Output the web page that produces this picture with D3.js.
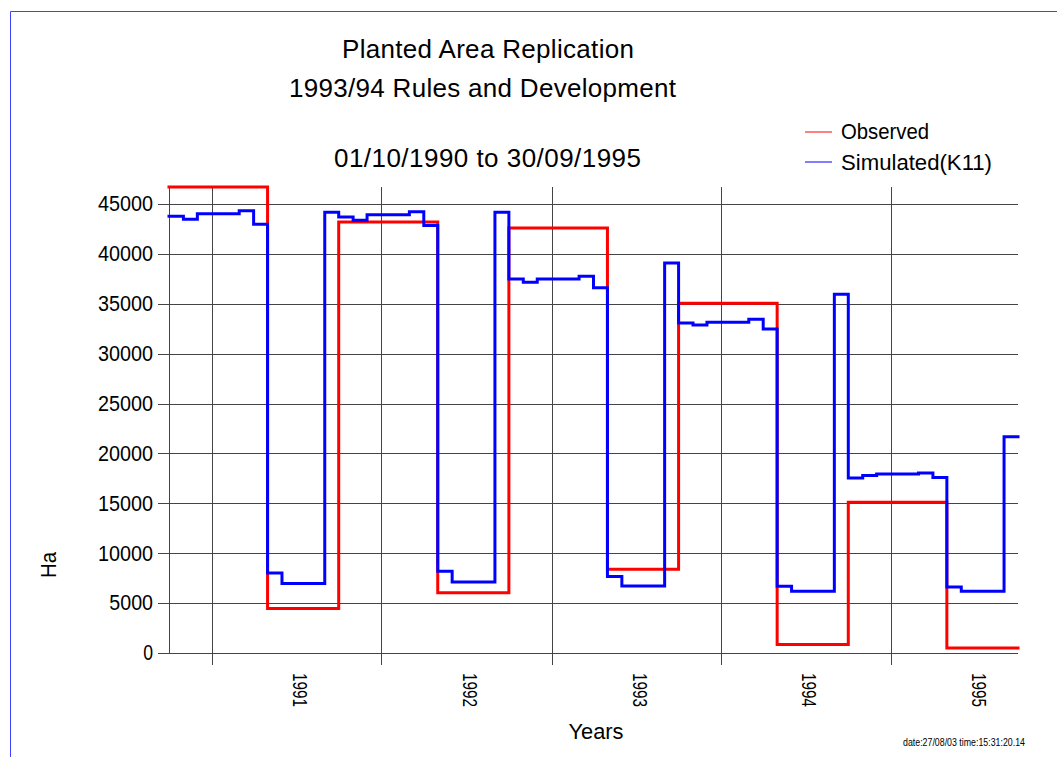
<!DOCTYPE html>
<html>
<head>
<meta charset="utf-8">
<script src="https://cdn.jsdelivr.net/npm/d3@7"></script>
<style>
  html, body { margin: 0; padding: 0; background: #fff; }
  svg { display: block; }
  text { font-family: "Liberation Sans", Arial, Helvetica, sans-serif; fill: #000; }
</style>
</head>
<body>
<svg id="chart" width="1057" height="757"></svg>
<script>
// Monthly planted area (Ha), October 1990 to September 1995, one value per month
const seasonStart = new Date(1990, 9, 1);
const seasonEnd = new Date(1995, 9, 1);

const observed = [
  46700, 46700, 46700, 46700, 46700, 46700, 46700, 4450, 4450, 4450, 4450, 4450,
  43200, 43200, 43200, 43200, 43200, 43200, 43200, 6050, 6050, 6050, 6050, 6050,
  42600, 42600, 42600, 42600, 42600, 42600, 42600, 8400, 8400, 8400, 8400, 8400,
  35050, 35050, 35050, 35050, 35050, 35050, 35050, 850, 850, 850, 850, 850,
  15100, 15100, 15100, 15100, 15100, 15100, 15100, 500, 500, 500, 500, 500
];

const simulated = [
  43780, 43470, 44030, 44030, 44030, 44330, 42970, 8020, 6960, 6960, 6960, 44170,
  43700, 43370, 43930, 43930, 43930, 44230, 42830, 8190, 7120, 7120, 7120, 44170,
  37480, 37150, 37480, 37480, 37480, 37750, 36610, 7660, 6720, 6720, 6720, 39090,
  33070, 32870, 33140, 33140, 33140, 33440, 32470, 6690, 6190, 6190, 6190, 35950,
  17550, 17790, 17950, 17950, 17950, 18050, 17590, 6620, 6190, 6190, 6190, 21670
];

const yTicks = [0, 5000, 10000, 15000, 20000, 25000, 30000, 35000, 40000, 45000];
const yearLabels = ["1991", "1992", "1993", "1994", "1995"];
const seriesNames = ["Observed", "Simulated(K11)"];
const seriesColors = ["#ff0000", "#0000ff"];

const svg = d3.select("#chart");

// Plot frame
const plotLeft = 169, plotRight = 1018, plotTop = 187, plotBottom = 653;

const months = d3.timeMonths(seasonStart, seasonEnd);
const x = d3.scaleTime().domain([seasonStart, seasonEnd]).range([plotLeft, plotRight]);
const y = d3.scaleLinear().domain([0, 46700]).range([plotBottom, plotTop]);

// Outer page border
svg.append("path")
  .attr("d", "M10.5,757V11.5H1057")
  .attr("fill", "none")
  .attr("stroke", "#4040ff")
  .attr("stroke-width", 1);

// Horizontal grid lines
svg.append("g")
  .attr("transform", `translate(${plotLeft},0)`)
  .call(d3.axisLeft(y).tickValues(yTicks).tickSize(-(plotRight - plotLeft)).tickFormat(""))
  .call(g => g.select(".domain").remove())
  .call(g => g.selectAll(".tick line").attr("stroke", "#444").attr("shape-rendering", "crispEdges"));

// Vertical grid lines at each January, extending below the zero line
const yearStarts = d3.timeYears(new Date(1991, 0, 1), seasonEnd);
svg.append("g")
  .attr("transform", `translate(0,${plotBottom + 12})`)
  .call(d3.axisBottom(x).tickValues(yearStarts).tickSize(-(plotBottom + 12 - plotTop)).tickFormat(""))
  .call(g => g.select(".domain").remove())
  .call(g => g.selectAll(".tick line").attr("stroke", "#444").attr("shape-rendering", "crispEdges"));

// Left axis: line, outward ticks and labels
const yAxis = svg.append("g")
  .attr("transform", `translate(${plotLeft},0)`)
  .call(d3.axisLeft(y).tickValues(yTicks).tickSize(11).tickSizeOuter(0).tickPadding(5).tickFormat(d => String(d)));
yAxis.select(".domain")
  .attr("d", `M0.5,${y(0)}V${plotTop}`)
  .attr("stroke", "#444");
yAxis.selectAll(".tick line").attr("stroke", "#444").attr("shape-rendering", "crispEdges");
yAxis.attr("font-family", null).attr("font-size", null);
yAxis.selectAll(".tick text")
  .attr("font-size", 21.5)
  .attr("fill", "#000")
  .each(function (d) {
    const n = String(d).length;
    d3.select(this).attr("textLength", n * 11.3 - 1.5).attr("lengthAdjust", "spacingAndGlyphs");
  });

// Year labels centred on each calendar year, rotated
svg.append("g")
  .selectAll("text")
  .data(yearLabels)
  .join("text")
  .attr("transform", d => {
    const yr = +d;
    const cx = (x(new Date(yr, 0, 1)) + x(new Date(yr + 1, 0, 1))) / 2 + 3.5;
    return `translate(${cx},${plotBottom + 20}) rotate(90)`;
  })
  .attr("dy", "0.35em")
  .attr("font-size", 21)
  .attr("textLength", 34)
  .attr("lengthAdjust", "spacingAndGlyphs")
  .text(d => d);

// Series drawn as monthly steps
const stepLine = d3.line()
  .x(d => x(d.date))
  .y(d => y(d.value))
  .curve(d3.curveStepAfter);

function toPoints(values) {
  const pts = values.map((v, i) => ({ date: months[i], value: v }));
  pts.push({ date: seasonEnd, value: values[values.length - 1] });
  return pts;
}

[observed, simulated].forEach((values, i) => {
  svg.append("path")
    .datum(toPoints(values))
    .attr("d", stepLine)
    .attr("fill", "none")
    .attr("stroke", seriesColors[i])
    .attr("stroke-width", 3)
    .attr("stroke-linejoin", "miter")
    .attr("stroke-linecap", "square");
});

// Titles
const titles = [
  { text: "Planted Area Replication", cx: 488, base: 58, len: 292 },
  { text: "1993/94 Rules and Development", cx: 482.5, base: 96.5, len: 387 },
  { text: "01/10/1990 to 30/09/1995", cx: 487.5, base: 166.5, len: 307 }
];
svg.append("g")
  .selectAll("text")
  .data(titles)
  .join("text")
  .attr("x", d => d.cx)
  .attr("y", d => d.base)
  .attr("text-anchor", "middle")
  .attr("font-size", 26)
  .attr("textLength", d => d.len)
  .attr("lengthAdjust", "spacing")
  .text(d => d.text);

// Legend
const legendRows = [
  { y: 132, base: 139, len: 88 },
  { y: 162, base: 170, len: 151 }
];
const legend = svg.append("g");
legendRows.forEach((r, i) => {
  legend.append("line")
    .attr("x1", 805).attr("x2", 832)
    .attr("y1", r.y).attr("y2", r.y)
    .attr("stroke", seriesColors[i])
    .attr("stroke-width", 1);
  legend.append("text")
    .attr("x", 841)
    .attr("y", r.base)
    .attr("font-size", 22)
    .attr("textLength", r.len)
    .attr("lengthAdjust", "spacingAndGlyphs")
    .text(seriesNames[i]);
});

// Axis titles
svg.append("text")
  .attr("x", 596)
  .attr("y", 739)
  .attr("text-anchor", "middle")
  .attr("font-size", 22)
  .attr("textLength", 55)
  .attr("lengthAdjust", "spacingAndGlyphs")
  .text("Years");

svg.append("text")
  .attr("transform", "translate(56,565) rotate(-90)")
  .attr("text-anchor", "middle")
  .attr("font-size", 22)
  .attr("textLength", 26)
  .attr("lengthAdjust", "spacingAndGlyphs")
  .text("Ha");

// Timestamp
svg.append("text")
  .attr("x", 903)
  .attr("y", 746)
  .attr("font-size", 11)
  .attr("textLength", 122)
  .attr("lengthAdjust", "spacingAndGlyphs")
  .attr("fill", "#222")
  .text("date:27/08/03  time:15:31:20.14");
</script>
</body>
</html>
